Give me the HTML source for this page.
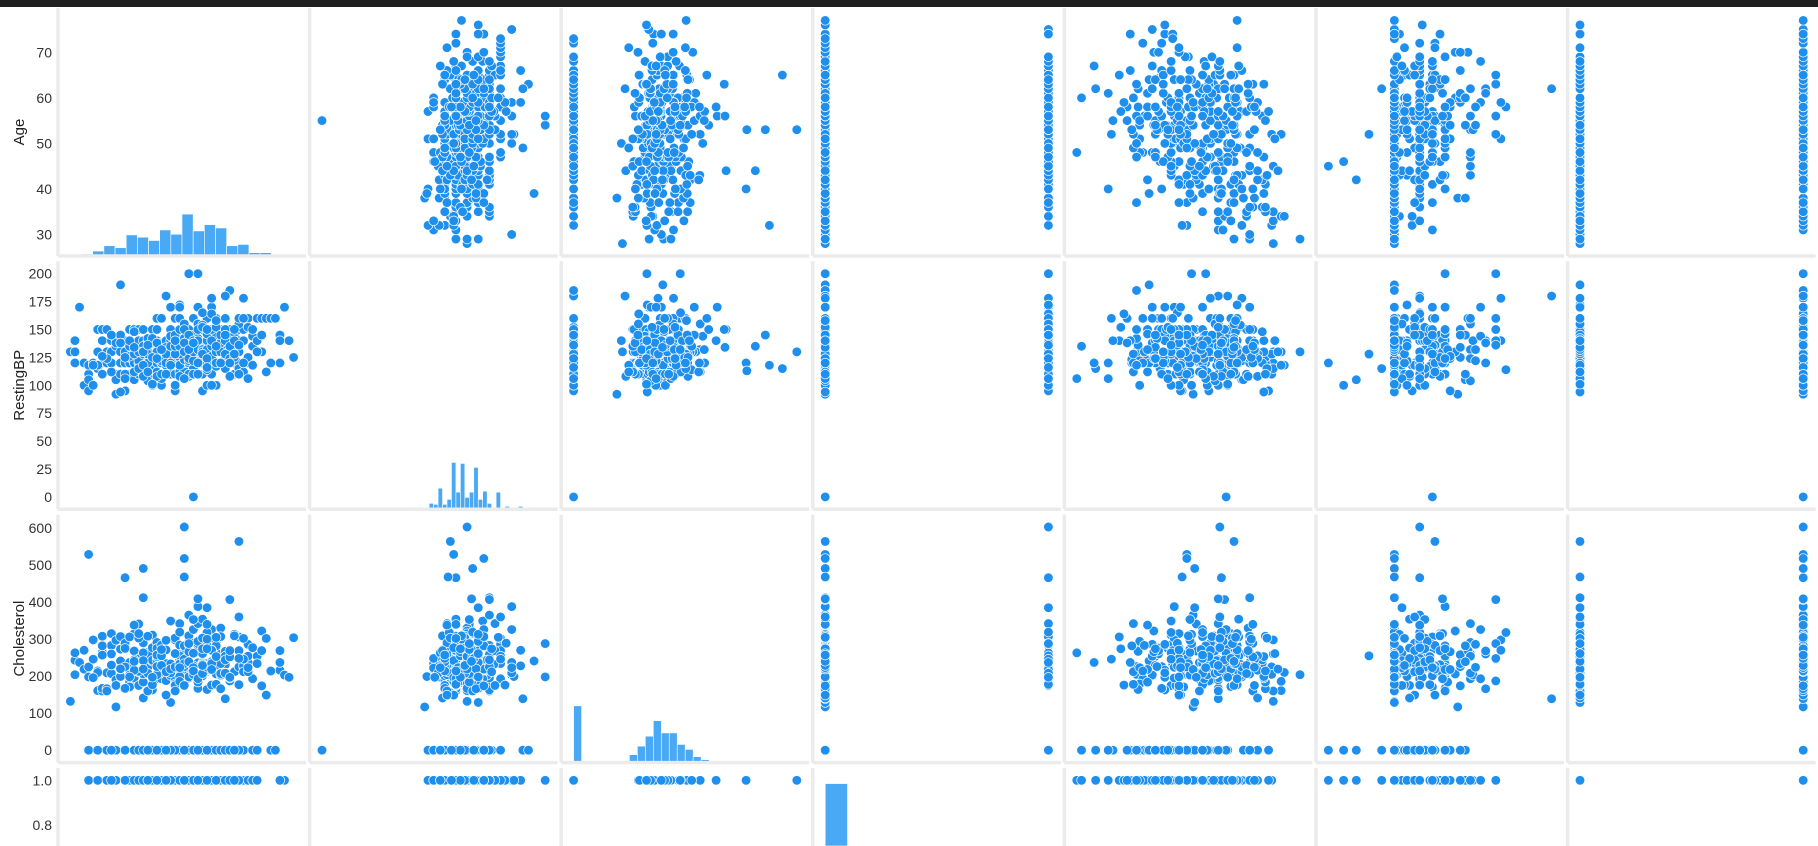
<!DOCTYPE html>
<html><head><meta charset="utf-8"><style>
html,body{margin:0;padding:0;background:#fff;}
body{width:1818px;height:846px;overflow:hidden;font-family:"Liberation Sans",sans-serif;}
</style></head><body>
<svg id="chart" width="1818" height="846" viewBox="0 0 1818 846" xmlns="http://www.w3.org/2000/svg" style="display:block;overflow:hidden">
<defs><clipPath id="frame"><rect x="0" y="0" width="1818" height="846"/></clipPath></defs>
</svg>
<script>
// ---- data ----
const varNames = ["Age","RestingBP","Cholesterol","FastingBS","MaxHR","Oldpeak","HeartDisease"];
const rowLabels = ["Age","RestingBP","Cholesterol"];
const ageTicks = [30,40,50,60,70];
const bpTicks = [0,25,50,75,100,125,150,175,200];
const cholTicks = [0,100,200,300,400,500,600];
const fbsTicks = [0.8,1.0];
const fbsTickLabels = ["0.8","1.0"];
// histogram counts (diagonal)
const ageBinCounts = [2,6,15,31,25,64,57,47,79,66,127,76,95,85,31,35,10,10,3,1];
const bpBinCounts = [1,0,0,0,0,0,0,0,0,0,0,0,0,0,0,0,0,0,0,0,0,0,0,6,18,15,64,15,30,142,52,139,36,52,127,30,55,18,3,52,3,9,0,0,9,0,0,0,2,4];
const cholBinCounts = [172,0,0,0,1,2,3,24,50,80,127,90,90,55,40,18,9,3,2,4,0,2,0,1,1,0,1,1];
const fbsBinCounts = [704,214];
// rows: age bp chol fbs maxhr oldpeak heartdisease
const rowsText = `28 130 132 0 185 0 0;29 120 243 0 160 0 0;29 140 263 0 170 0 0;30 170 237 0 170 0 0;31 100 219 0 150 0 0;31 120 270 0 153 1.5 1;32 110 225 0 184 0 0;32 105 198 0 165 0 0;32 118 529 0 130 0 1;32 95 0 1 127 0.7 1;33 120 298 0 185 0 0;33 100 246 0 150 1 1;34 130 161 0 190 0 0;34 150 214 0 168 0 0;34 115 0 1 154 0.2 1;35 120 160 0 185 0 0;35 150 264 0 168 0 0;35 140 167 0 150 0 0;35 120 308 0 180 0 0;36 130 209 0 178 0 0;36 120 166 0 180 0 0;36 150 160 0 172 0 0;37 130 283 0 98 0 0;37 140 207 0 130 1.5 1;37 120 260 0 130 0 0;37 130 315 0 158 0 0;38 140 297 0 150 0 0;38 110 190 0 150 1 1;38 92 117 0 134 2.5 1;38 135 0 1 150 0 1;38 105 0 1 166 2.8 1;39 120 200 0 160 1 0;39 130 307 0 140 0 0;39 190 241 0 106 0 0;39 110 273 0 132 0 0;40 140 289 0 172 0 0;40 130 275 0 150 0 0;40 120 466 1 152 1 1;40 95 0 1 144 0 1;41 120 237 1 138 1 1;41 110 172 0 158 0 0;41 125 184 0 180 0 0;41 150 171 0 128 1.5 0;42 120 196 0 150 0 0;42 150 268 0 136 0 0;42 105 0 1 128 -1.5 1;42 136 315 0 125 1.8 1;43 120 175 0 120 1 1;43 150 247 0 130 2 1;43 110 211 0 161 0 0;43 132 341 1 136 3 1;43 140 0 0 140 0.5 1;44 120 184 0 142 1 0;44 140 206 0 148 0 0;44 150 412 0 170 0 0;44 135 491 0 135 0 1;44 130 0 1 135 0.1 1;45 130 237 0 170 0 0;45 140 224 1 122 0 0;45 110 264 0 132 1.2 1;45 115 260 0 185 0 0;45 142 309 0 147 0 1;46 120 277 0 125 1 1;46 150 163 0 116 0 0;46 110 240 0 140 0 0;46 140 311 0 120 1.8 1;46 115 0 1 113 1.5 1;47 120 205 0 98 2 1;47 160 291 0 158 3 1;47 110 275 0 118 1 1;47 140 193 0 145 1 1;48 120 284 0 120 0 0;48 138 214 0 108 1.5 1;48 130 245 0 160 0 0;48 160 193 0 102 3 1;48 100 0 1 100 0 1;48 120 254 0 110 0 0;49 140 234 0 140 1 1;49 124 201 0 164 0 0;49 130 206 0 170 0 0;49 180 0 0 156 1 1;49 120 188 0 139 2 1;50 140 129 0 135 0 0;50 130 233 0 121 2 1;50 110 202 0 145 0 0;50 150 215 0 140 0 0;50 144 349 0 120 1 1;50 120 0 1 156 0 1;51 125 188 0 145 0 0;51 130 179 0 100 0 0;51 140 298 0 122 4.2 1;51 110 175 0 123 0.6 0;51 160 303 0 150 1 1;51 95 0 1 126 2.2 1;52 120 284 0 118 0 0;52 112 342 0 96 1 1;52 140 259 0 170 0 0;52 160 246 0 82 4 1;52 128 205 1 184 0 0;52 125 0 0 110 0 1;53 113 468 0 127 0 0;53 145 518 0 130 0 1;53 124 260 0 112 3 0;53 130 603 1 151 1 1;53 140 203 1 155 3.1 1;53 120 0 1 95 0 1;54 150 365 0 134 1 1;54 120 273 0 150 1.5 0;54 110 208 0 142 0 0;54 130 294 0 100 0 1;54 125 224 0 122 2 1;54 150 195 0 122 0 0;54 108 309 0 156 0 0;54 200 198 0 142 2 1;54 130 0 1 117 1.4 1;55 0 0 0 155 1.5 1;55 145 326 0 155 0 1;55 120 226 0 127 1.7 1;55 140 229 0 110 0.5 0;55 160 289 0 145 0.8 1;55 128 205 0 130 2 1;55 115 0 1 155 0.1 1;56 130 167 0 114 0 0;56 120 236 0 178 0.8 0;56 170 388 0 122 2 1;56 155 342 1 150 3 1;56 125 0 1 103 1 1;57 140 265 0 145 1 1;57 130 236 0 174 0 1;57 150 276 0 112 0.6 1;57 120 354 0 163 0.6 0;57 110 201 0 126 1.5 0;57 95 0 1 182 0.7 1;58 130 213 0 140 0 1;58 136 164 0 99 2 1;58 150 283 1 162 1 0;58 128 216 0 131 2.2 1;58 140 385 1 135 0.3 0;58 100 234 0 156 0.1 1;58 160 0 1 92 0 1;59 130 318 0 120 1 0;59 140 177 0 162 0 1;59 170 326 0 140 3.4 1;59 110 239 0 142 1.2 1;59 125 0 1 175 2.6 1;60 100 248 0 125 1 1;60 140 293 0 170 1.2 1;60 130 206 0 132 2.4 1;60 150 258 0 157 2.6 1;60 160 0 1 149 0.4 1;61 120 260 0 140 3.6 1;61 130 330 0 169 0 1;61 148 203 0 161 0 1;61 150 0 0 105 0 1;62 140 268 0 160 3.6 1;62 120 267 0 99 1.8 1;62 130 231 0 146 1.8 0;62 115 0 1 72 -0.5 1;63 150 407 0 154 4 1;63 130 254 0 147 1.4 1;63 140 187 0 144 4 1;63 185 0 0 98 0 1;64 110 211 0 144 1.8 0;64 145 212 0 132 2 1;64 120 0 1 106 2 1;65 140 306 1 87 1.5 1;65 150 225 0 114 1 1;65 120 177 0 140 0.4 0;65 115 564 0 160 1.6 0;66 150 226 0 114 2.6 0;66 178 228 1 165 1 1;66 140 0 0 94 1 1;67 120 237 0 71 1 1;67 160 286 0 108 1.5 1;67 125 254 1 163 0.2 1;68 144 193 1 141 3.4 1;68 135 0 0 120 0 1;69 140 254 0 146 2 1;69 160 234 1 131 0.1 0;70 130 322 0 109 2.4 1;70 160 269 0 112 2.9 1;71 160 302 0 162 0.4 0;72 160 0 0 114 1.6 1;74 145 216 1 116 1.8 1;74 120 269 0 121 0.2 0;75 170 203 1 108 0 1;76 140 197 0 116 1.1 0;77 125 304 0 162 0 1;29 130 204 0 202 0 0;34 118 210 0 192 0.7 0;56 130 283 1 103 1.6 1;47 112 204 0 143 0.1 0;61 140 207 0 138 1.9 1;51 100 222 0 143 1.2 0;55 132 353 0 132 1.2 1;60 117 230 1 160 1.4 1;48 106 263 1 60 0 1;63 140 195 0 179 0 0;57 165 289 1 124 1 1;41 126 306 0 163 0 0;52 172 199 1 162 0.5 0;46 138 243 0 152 0 0;62 124 209 0 163 0 0;58 114 318 0 140 4.4 1;45 104 208 0 148 3 0;44 112 290 0 153 0 1;59 164 176 1 90 1 1;52 118 186 0 190 0 0;57 154 232 0 164 0 1;39 94 199 0 179 0 0;61 134 234 0 145 2.6 1;58 146 218 0 105 2 1;60 145 282 0 142 2.8 1;66 112 212 0 132 0.1 1;53 123 282 0 95 2 1;56 200 288 1 133 4 1;43 122 213 0 165 0.2 0;65 155 269 0 148 0.8 0;62 180 139 0 150 6.2 1;47 108 243 0 152 0 1;45 120 0 1 170 -2.6 1;52 128 255 0 161 -1 1;56 134 409 0 150 1.9 1;54 122 286 0 116 3.2 1;50 170 209 0 116 0 0;44 128 263 0 120 0 0;57 124 261 0 141 0.3 1;49 118 149 0 126 0.8 1;53 142 226 0 111 0 0;59 132 271 0 125 0 0;42 148 244 0 178 0.8 0;36 124 0 1 170 1 1;50 128 0 1 128 1.6 1;59 150 0 1 117 1 1;64 134 0 1 110 2 1;46 100 0 1 133 -2 1;56 142 0 1 98 1.5 1;62 160 254 1 108 3 1;47 130 253 0 179 0 0;55 136 228 0 124 1.6 1;49 134 271 0 162 0 0;
33 118 196 0 158 0 0;35 126 282 0 156 0 1;37 112 230 0 160 0 0;38 138 175 0 173 0 0;39 145 219 0 151 0 0;40 125 225 0 165 0 0;40 110 167 0 114 2 1;41 135 203 0 132 0 0;42 128 216 0 175 0 0;42 112 338 0 105 1 1;43 115 303 0 181 1.2 0;43 130 315 0 162 1.9 0;44 118 242 0 149 0.3 0;44 108 141 0 175 0.6 0;45 128 308 0 170 0 0;45 112 160 0 138 0 0;46 142 177 0 160 1.4 0;46 125 0 1 115 0 1;47 138 257 0 156 0 0;47 150 226 0 98 1.5 1;48 124 255 1 175 0 0;48 110 229 0 168 1 1;48 122 0 0 150 0.5 1;49 128 212 0 96 0 1;49 120 297 0 132 1 0;50 120 219 0 158 1.6 0;50 135 0 1 135 1.5 1;51 145 0 1 130 1 1;51 128 225 0 150 0 0;51 135 160 0 150 2 1;52 150 225 0 130 1.2 1;52 135 319 1 152 0 0;52 108 233 1 147 0.1 0;53 130 246 1 173 0 0;53 155 175 1 160 0.3 0;53 138 234 0 160 0 0;53 150 0 1 120 1.5 1;54 140 239 0 160 1.2 0;54 124 266 0 109 2.2 1;54 110 239 0 126 2.8 1;54 145 0 0 110 1.2 1;55 122 223 1 100 0 1;55 130 262 0 155 0 0;55 110 214 0 180 0.4 0;55 140 0 0 83 0 1;56 140 294 0 153 1.3 0;56 132 184 0 105 2.1 1;56 120 193 0 162 1.9 0;56 150 0 1 125 1 1;57 128 303 0 159 0 0;57 132 207 0 168 0 0;57 152 274 0 88 1.2 1;57 130 0 1 120 1 1;58 120 340 0 172 0 0;58 125 300 0 171 0 1;58 132 224 0 173 3.2 1;58 150 0 0 120 2 1;59 135 234 0 161 0.5 0;59 126 218 1 134 2.2 1;59 178 270 0 145 4.2 0;59 140 0 1 140 0 1;60 130 253 0 144 1.4 1;60 120 178 1 96 0 0;60 152 0 0 118 0 1;61 138 166 0 125 3.6 1;61 145 307 0 146 1 1;61 130 0 1 115 0 1;62 150 244 0 154 1.4 1;62 128 208 1 140 0 0;62 140 0 0 143 0 1;63 135 252 0 172 0 0;63 108 269 0 169 1.8 1;63 124 197 0 136 0 1;64 140 313 0 133 0.2 0;64 125 309 0 131 1.8 1;64 150 0 1 122 2 1;65 110 248 0 158 0.6 1;65 160 360 0 151 0.8 0;65 130 0 1 115 0 1;66 120 302 0 151 0.4 0;66 160 246 0 120 0 1;67 152 212 0 150 0.8 1;67 106 223 0 142 0.3 0;68 118 277 0 151 1 0;68 150 0 1 120 1.5 1;69 130 0 1 129 1 1;70 145 174 0 125 2.6 1;71 112 149 0 125 1.6 0;72 120 214 0 102 1 1;73 160 0 0 121 0 1;74 140 237 1 94 0 1;39 138 220 0 152 0 0;41 140 198 0 125 0 0;44 130 219 0 188 0 0;46 101 197 1 156 0 0;48 132 272 0 139 0.2 0;50 118 0 1 98 0 1;52 170 223 0 126 1.5 1;53 138 0 1 125 0.5 1;54 132 288 1 159 0 0;55 138 0 1 92 0 1;56 110 0 1 140 0 1;57 128 229 0 150 0.4 1;58 124 274 0 110 2 1;59 100 0 1 120 0.5 1;60 135 0 1 63 0.5 1;61 120 0 0 80 0 1;62 145 0 1 130 1.5 1;63 120 0 1 115 1 1;64 128 0 1 126 1.5 1;65 136 248 0 140 4 1;42 134 240 0 160 0 0;45 136 0 1 120 0 1;47 124 0 1 110 1 1;49 110 0 1 130 0 1;51 140 261 0 186 0 0;53 106 0 1 118 1 1;58 116 0 1 124 1 1;60 158 305 0 161 0 1;35 110 257 0 140 0 1;37 145 0 1 125 0.8 1;40 106 0 1 80 1 1`;

const rows = rowsText.split(";").map(r => r.trim()).filter(r => r.length).map(r => r.split(/\s+/).map(Number));
const cols = varNames.map((_, i) => rows.map(r => r[i]));

// ---- layout ----
const svg = document.getElementById("chart");
const NS = "http://www.w3.org/2000/svg";
const AX_L0 = 58, AX_DX = 251.6, AX_T0 = 8, AX_DY = 253.3, AX_W = 248, AX_H = 248;
const COUNT_PX = 0.33;
const POINT = "#1f8fee", BAR = "#4aa9f5", SPINE = "#ebebeb", TXT = "#333";

function mk(tag, attrs) {
  const e = document.createElementNS(NS, tag);
  for (const k in attrs) e.setAttribute(k, attrs[k]);
  return e;
}
function extent(a) { return [Math.min(...a), Math.max(...a)]; }
const doms = cols.map(extent);
function xScale(c, v) { const [a,b] = doms[c]; return AX_L0 + AX_DX*c + AX_W*(0.05 + 0.9*(v-a)/(b-a)); }
function yScale(r, v) { const [a,b] = doms[r]; return AX_T0 + AX_DY*r + AX_H*(0.95 - 0.9*(v-a)/(b-a)); }

const root = mk("g", {"clip-path":"url(#frame)"});


svg.appendChild(root);

const topbar = mk("rect", {x:0,y:0,width:1818,height:7,fill:"#1f1f1f"});


root.appendChild(topbar);

const NR = 4, NC = 7;
for (let r = 0; r < NR; r++) {
  for (let c = 0; c < NC; c++) {
    const L = AX_L0 + AX_DX*c, T = AX_T0 + AX_DY*r;
    const g = mk("g", {});
    
    
    root.appendChild(g);
    if (r === c) {
      const B = T + AX_H;
      let counts;
      if (r === 0) { counts = ageBinCounts; }
      else if (r === 1) { counts = bpBinCounts; }
      else if (r === 2) { counts = cholBinCounts; }
      else { counts = fbsBinCounts; }
      const [lo, hi] = doms[c];
      let bw = (hi - lo) / counts.length;
      counts.forEach((cnt, k) => {
        if (!cnt) return;
        let v0 = lo + k*bw, v1 = v0 + bw;
        if (r === 3) { v0 = k === 0 ? 0 : 0.9; v1 = v0 + 0.1; }
        const x0 = xScale(c, v0), x1 = xScale(c, v1);
        const h = cnt * COUNT_PX;
        const top = B - h;
        if (top > 846) return;
        const bar = mk("rect", {x:x0, y:top, width:Math.max(0.5,x1-x0), height:Math.min(h, 846 - top), fill:BAR, stroke:"#fff", "stroke-width":0.6});
        
        
        g.appendChild(bar);
      });
    } else {
      rows.forEach((row) => {
        const cx = xScale(c, row[c]), cy = yScale(r, row[r]);
        if (cy > 840) return;
        const p = mk("circle", {cx:cx, cy:cy, r:4.8, fill:POINT, stroke:"#fff", "stroke-width":0.7});
        
        
        g.appendChild(p);
      });
    }
    const yb = Math.min(T + AX_H, 846);
    const ls = mk("line", {x1:L, y1:T, x2:L, y2:yb, stroke:SPINE, "stroke-width":3.5});
    
    
    g.appendChild(ls);
    if (T + AX_H < 846) {
      const bs = mk("line", {x1:L, y1:T+AX_H, x2:L+AX_W, y2:T+AX_H, stroke:SPINE, "stroke-width":3.5});
      
      
      g.appendChild(bs);
    }
  }
}

function ticks(r, vals, labels) {
  vals.forEach((v, i) => {
    const t = mk("text", {x:52, y:yScale(r, v)+5, "text-anchor":"end", "font-size":14, fill:TXT, "font-family":"Liberation Sans, sans-serif"});
    t.textContent = labels ? labels[i] : String(v);
    
    
    root.appendChild(t);
  });
}
ticks(0, ageTicks);
ticks(1, bpTicks);
ticks(2, cholTicks);
ticks(3, fbsTicks, fbsTickLabels);

rowLabels.forEach((lab, r) => {
  const cy = AX_T0 + AX_DY*r + AX_H/2;
  const t = mk("text", {x:0, y:0, "text-anchor":"middle", "font-size":15, fill:"#222", "font-family":"Liberation Sans, sans-serif", transform:"translate(24," + cy + ") rotate(-90)"});
  t.textContent = lab;
  
  
  root.appendChild(t);
});
</script>
</body></html>
